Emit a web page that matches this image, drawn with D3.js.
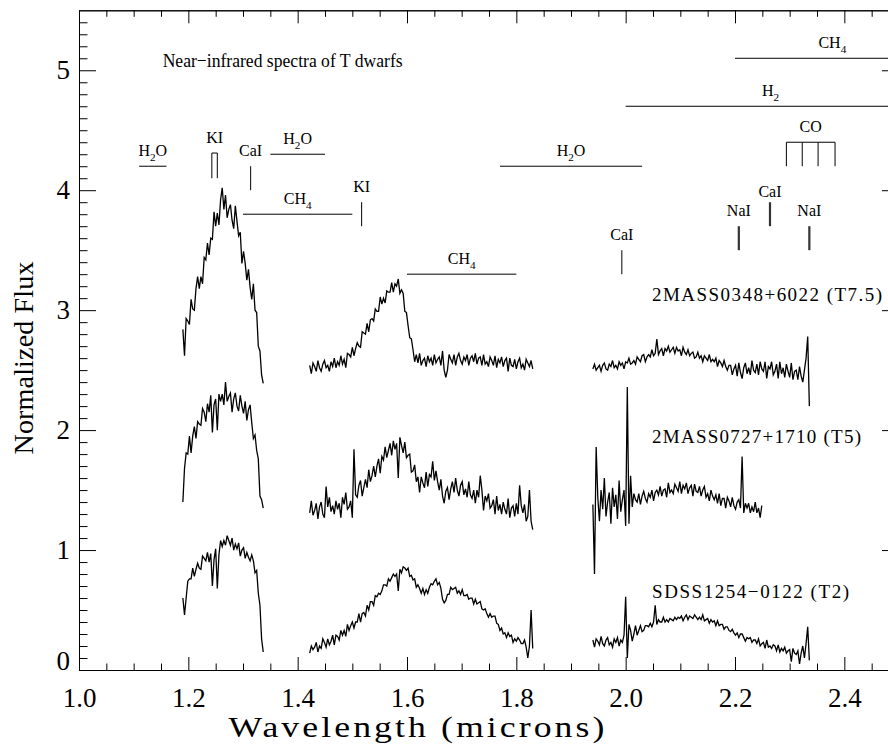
<!DOCTYPE html>
<html><head><meta charset="utf-8">
<script src="https://cdn.jsdelivr.net/npm/d3@7"></script>
<style>body{margin:0;background:#fff} svg{display:block}</style>
</head><body>
<svg id="c" width="888" height="744"></svg>
<script>
// ---------- data ----------
const xTickMajor = [1.0, 1.2, 1.4, 1.6, 1.8, 2.0, 2.2, 2.4];
const yTickMajor = [0, 1, 2, 3, 4, 5];
const segStart = {J: 1.190, H: 1.422, K: 1.940};
const segStep = 0.003;

const t75J = [2.84,2.62,2.93,2.91,2.88,3.09,3.01,3.00,3.18,3.28,3.18,3.28,3.22,3.44,3.42,3.56,3.46,3.60,3.59,3.82,3.70,3.81,3.71,3.92,4.02,3.84,3.96,3.77,3.84,3.88,3.75,3.68,3.87,3.74,3.62,3.65,3.39,3.49,3.39,3.25,3.34,3.19,3.09,3.22,3.00,2.98,2.70,2.66,2.46,2.39];
const t75H = [2.54,2.47,2.56,2.53,2.49,2.58,2.52,2.49,2.55,2.58,2.52,2.54,2.49,2.57,2.53,2.60,2.52,2.57,2.54,2.62,2.55,2.59,2.52,2.64,2.63,2.61,2.69,2.62,2.68,2.73,2.70,2.69,2.82,2.81,2.80,2.89,2.82,2.92,2.93,2.91,3.01,2.99,2.99,3.11,3.05,3.10,3.06,3.16,3.15,3.15,3.23,3.15,3.22,3.20,3.26,3.14,3.17,3.14,2.99,2.98,2.87,2.77,2.76,2.67,2.57,2.63,2.56,2.64,2.54,2.58,2.60,2.53,2.62,2.57,2.60,2.54,2.63,2.56,2.59,2.61,2.54,2.66,2.50,2.44,2.50,2.63,2.59,2.56,2.63,2.54,2.61,2.64,2.58,2.55,2.61,2.58,2.63,2.54,2.60,2.62,2.57,2.64,2.55,2.60,2.61,2.54,2.63,2.55,2.57,2.53,2.61,2.58,2.54,2.62,2.52,2.59,2.56,2.61,2.53,2.58,2.60,2.49,2.60,2.54,2.53,2.59,2.51,2.57,2.60,2.52,2.55,2.50,2.59,2.56,2.53,2.58,2.51];
const t75K = [2.51,2.55,2.50,2.52,2.54,2.49,2.54,2.56,2.51,2.50,2.55,2.53,2.58,2.52,2.54,2.51,2.57,2.54,2.56,2.51,2.57,2.56,2.60,2.55,2.56,2.58,2.55,2.61,2.59,2.57,2.62,2.63,2.57,2.61,2.63,2.61,2.67,2.62,2.64,2.76,2.63,2.66,2.68,2.62,2.68,2.66,2.70,2.65,2.67,2.69,2.64,2.69,2.66,2.67,2.62,2.69,2.65,2.63,2.67,2.62,2.64,2.65,2.60,2.61,2.65,2.60,2.62,2.57,2.62,2.60,2.58,2.63,2.57,2.59,2.57,2.60,2.53,2.58,2.56,2.53,2.58,2.53,2.50,2.54,2.54,2.46,2.51,2.54,2.45,2.56,2.48,2.43,2.52,2.56,2.47,2.52,2.46,2.58,2.50,2.48,2.55,2.46,2.57,2.51,2.49,2.57,2.43,2.53,2.51,2.57,2.46,2.49,2.55,2.43,2.57,2.47,2.52,2.44,2.55,2.49,2.44,2.56,2.42,2.49,2.50,2.42,2.53,2.45,2.40,2.50,2.60,2.78,2.20];

const t5J = [1.40,1.68,1.81,1.80,1.95,1.81,1.95,2.03,1.93,2.07,2.05,2.04,2.18,2.15,2.07,2.22,2.15,2.29,1.98,2.21,2.26,2.00,2.30,2.24,2.30,2.21,2.40,2.24,2.28,2.31,2.15,2.26,2.31,2.20,2.16,2.29,2.20,2.14,2.24,2.08,2.17,2.21,2.06,1.93,1.96,1.83,1.76,1.45,1.42,1.35];
const t5H = [1.31,1.41,1.29,1.33,1.39,1.26,1.36,1.40,1.30,1.27,1.53,1.36,1.44,1.32,1.37,1.30,1.41,1.34,1.39,1.27,1.44,1.38,1.48,1.34,1.36,1.41,1.27,1.84,1.46,1.44,1.54,1.58,1.45,1.52,1.59,1.52,1.67,1.57,1.62,1.70,1.61,1.70,1.76,1.64,1.78,1.75,1.86,1.77,1.83,1.89,1.79,1.91,1.84,1.89,1.60,1.94,1.87,1.81,1.90,1.77,1.79,1.80,1.65,1.66,1.71,1.57,1.61,1.48,1.61,1.56,1.52,1.65,1.53,1.63,1.61,1.74,1.58,1.66,1.57,1.50,1.59,1.45,1.39,1.49,1.52,1.42,1.51,1.57,1.48,1.60,1.50,1.45,1.54,1.57,1.46,1.51,1.44,1.57,1.46,1.43,1.50,1.39,1.50,1.44,1.62,1.50,1.33,1.45,1.41,1.47,1.35,1.37,1.42,1.30,1.45,1.33,1.38,1.30,1.40,1.34,1.30,1.43,1.27,1.35,1.37,1.28,1.39,1.30,1.54,1.37,1.31,1.38,1.24,1.28,1.50,1.24,1.17];
const t5K = [1.38,0.80,1.86,1.44,1.24,1.50,1.34,1.60,1.28,1.40,1.48,1.22,1.52,1.36,1.46,1.26,1.58,1.32,1.42,1.50,1.20,2.36,1.22,1.62,1.36,1.47,1.42,1.40,1.47,1.38,1.45,1.49,1.43,1.40,1.47,1.44,1.50,1.41,1.48,1.50,1.46,1.53,1.45,1.50,1.51,1.44,1.56,1.48,1.50,1.47,1.55,1.52,1.49,1.57,1.47,1.54,1.51,1.56,1.47,1.52,1.54,1.45,1.55,1.49,1.48,1.53,1.45,1.50,1.53,1.44,1.47,1.41,1.50,1.45,1.42,1.46,1.39,1.47,1.37,1.43,1.43,1.35,1.44,1.41,1.36,1.44,1.37,1.34,1.40,1.42,1.35,1.78,1.31,1.39,1.35,1.39,1.31,1.36,1.32,1.40,1.31,1.35,1.27,1.37];

const t2J = [0.60,0.46,0.60,0.74,0.76,0.76,0.85,0.78,0.84,0.89,0.85,0.84,0.95,0.93,0.91,0.98,0.90,0.97,0.70,0.92,1.01,0.68,0.96,1.08,1.03,1.08,1.04,1.12,1.08,1.04,1.10,1.00,1.05,1.01,1.06,0.95,1.00,1.02,0.93,0.98,0.94,0.91,0.96,0.91,0.81,0.83,0.64,0.54,0.26,0.15];
const t2H = [0.14,0.20,0.17,0.19,0.23,0.15,0.20,0.18,0.26,0.23,0.19,0.26,0.21,0.24,0.29,0.21,0.29,0.28,0.25,0.33,0.29,0.33,0.28,0.38,0.33,0.37,0.40,0.35,0.40,0.40,0.47,0.40,0.47,0.48,0.45,0.54,0.50,0.57,0.57,0.54,0.62,0.61,0.64,0.63,0.66,0.71,0.71,0.70,0.76,0.74,0.77,0.80,0.78,0.80,0.66,0.84,0.81,0.86,0.85,0.83,0.85,0.78,0.79,0.75,0.76,0.69,0.71,0.68,0.64,0.68,0.63,0.67,0.64,0.69,0.72,0.71,0.74,0.76,0.71,0.73,0.68,0.59,0.56,0.58,0.63,0.63,0.69,0.67,0.68,0.69,0.64,0.66,0.63,0.67,0.62,0.62,0.63,0.59,0.60,0.60,0.55,0.59,0.55,0.56,0.57,0.51,0.50,0.51,0.47,0.44,0.47,0.44,0.45,0.45,0.39,0.38,0.33,0.35,0.30,0.31,0.27,0.31,0.28,0.29,0.23,0.26,0.24,0.27,0.25,0.22,0.22,0.25,0.19,0.10,0.20,0.50,0.18];
const t2K = [0.25,0.19,0.26,0.24,0.21,0.28,0.22,0.20,0.25,0.27,0.21,0.23,0.19,0.26,0.23,0.27,0.20,0.25,0.23,0.29,0.61,0.10,0.38,0.33,0.24,0.30,0.37,0.29,0.33,0.37,0.32,0.33,0.37,0.37,0.36,0.39,0.36,0.40,0.54,0.38,0.42,0.40,0.40,0.44,0.40,0.42,0.40,0.43,0.42,0.41,0.44,0.42,0.44,0.43,0.45,0.41,0.44,0.46,0.42,0.45,0.44,0.43,0.46,0.44,0.42,0.44,0.42,0.46,0.41,0.42,0.43,0.39,0.42,0.40,0.41,0.37,0.41,0.37,0.38,0.38,0.34,0.36,0.36,0.33,0.32,0.34,0.31,0.29,0.31,0.27,0.30,0.30,0.27,0.24,0.27,0.26,0.27,0.23,0.25,0.25,0.22,0.26,0.20,0.22,0.23,0.18,0.25,0.19,0.20,0.18,0.21,0.20,0.16,0.21,0.15,0.18,0.16,0.19,0.14,0.16,0.17,0.07,0.18,0.14,0.13,0.16,0.05,0.14,0.20,0.10,0.22,0.36,0.08];

const objects = [
  {name: "2MASS0348+6022 (T7.5)", labelY: 3.08, J: t75J, H: t75H, K: t75K},
  {name: "2MASS0727+1710 (T5)",   labelY: 1.89, J: t5J,  H: t5H,  K: t5K},
  {name: "SDSS1254\u22120122 (T2)", labelY: 0.60, J: t2J,  H: t2H,  K: t2K}
];

// molecular bands: horizontal bars
const bands = [
  {t: "H_2O", x0: 1.11, x1: 1.16, yv: 4.20},
  {t: "H_2O", x0: 1.35, x1: 1.45, yv: 4.30},
  {t: "CH_4", x0: 1.30, x1: 1.50, yv: 3.80},
  {t: "CH_4", x0: 1.60, x1: 1.80, yv: 3.30},
  {t: "H_2O", x0: 1.77, x1: 2.03, yv: 4.20},
  {t: "H_2",  x0: 2.00, x1: 2.50, yv: 4.70, lx: 2.265},
  {t: "CH_4", x0: 2.20, x1: 2.50, yv: 5.10, lx: 2.378}
];
// atomic lines / bandheads: vertical ticks
const features = [
  {t: "KI",  xs: [1.243, 1.253], y0: 4.10, y1: 4.31, joined: true},
  {t: "CaI", xs: [1.314], y0: 4.00, y1: 4.20},
  {t: "KI",  xs: [1.517], y0: 3.70, y1: 3.90},
  {t: "CaI", xs: [1.993], y0: 3.30, y1: 3.50},
  {t: "NaI", xs: [2.207], y0: 3.50, y1: 3.70, heavy: true},
  {t: "CaI", xs: [2.264], y0: 3.70, y1: 3.90, heavy: true, gap: 5},
  {t: "NaI", xs: [2.336], y0: 3.50, y1: 3.70, heavy: true},
  {t: "CO",  xs: [2.294, 2.323, 2.352, 2.383], y0: 4.20, y1: 4.40, joined: true}
];

// ---------- drawing ----------
const FONT = "'Liberation Serif', 'DejaVu Serif', serif";
const svg = d3.select("#c");
const x = d3.scaleLinear().domain([1.0, 2.5]).range([79, 899]);
const y = d3.scaleLinear().domain([0, 5.5]).range([670, 10.3]);

const xMinor = d3.range(21, 50).map(i => i * 0.05).filter(v => Math.abs(v*5 - Math.round(v*5)) > 1e-6 && v < 2.5 && v > 1.0);
const yMinor = d3.range(1, 55).map(i => i / 10).filter(v => Math.abs(v - Math.round(v)) > 1e-6);

function style(g, size) {
  g.selectAll("path, line").attr("stroke", "#000").attr("stroke-width", 1);
  g.selectAll("text").attr("font-family", FONT).attr("font-size", size).attr("fill", "#000");
}

// bottom
svg.append("g").attr("transform", `translate(0,${y(0)})`)
  .call(d3.axisBottom(x).tickValues(xMinor).tickSize(-6.5).tickSizeOuter(0).tickFormat(""))
  .call(g => style(g, 27));
svg.append("g").attr("transform", `translate(0,${y(0)})`)
  .call(d3.axisBottom(x).tickValues(xTickMajor).tickSize(-13).tickSizeOuter(0).tickPadding(18).tickFormat(d3.format(".1f")))
  .call(g => style(g, 27));
// top
svg.append("g").attr("transform", `translate(0,${y(5.5)})`)
  .call(d3.axisTop(x).tickValues(xMinor).tickSize(-6.5).tickSizeOuter(0).tickFormat(""))
  .call(g => style(g, 27));
svg.append("g").attr("transform", `translate(0,${y(5.5)})`)
  .call(d3.axisTop(x).tickValues(xTickMajor).tickSize(-13).tickSizeOuter(0).tickFormat(""))
  .call(g => style(g, 27));
// left
svg.append("g").attr("transform", `translate(${x(1.0)},0)`)
  .call(d3.axisLeft(y).tickValues(yMinor).tickSize(-8.5).tickSizeOuter(0).tickFormat(""))
  .call(g => style(g, 27));
const yl = svg.append("g").attr("transform", `translate(${x(1.0)},0)`)
  .call(d3.axisLeft(y).tickValues(yTickMajor).tickSize(-17).tickSizeOuter(0).tickPadding(9).tickFormat(d3.format("d")))
  .call(g => style(g, 27));
yl.selectAll(".tick").filter(d => d === 0).select("text").attr("y", -9);
// right
svg.append("g").attr("transform", `translate(${x(2.5)},0)`)
  .call(d3.axisRight(y).tickValues(yMinor).tickSize(-8.5).tickSizeOuter(0).tickFormat(""))
  .call(g => style(g, 27));
svg.append("g").attr("transform", `translate(${x(2.5)},0)`)
  .call(d3.axisRight(y).tickValues(yTickMajor).tickSize(-17).tickSizeOuter(0).tickFormat(""))
  .call(g => style(g, 27));

// axis titles
svg.append("text").attr("x", 418).attr("y", 737).attr("text-anchor", "middle")
  .attr("font-family", FONT).attr("font-size", 29).attr("letter-spacing", 2.5)
  .attr("textLength", 379).attr("lengthAdjust", "spacingAndGlyphs")
  .text("Wavelength (microns)");
svg.append("text").attr("transform", "translate(33,358) rotate(-90)").attr("text-anchor", "middle")
  .attr("font-family", FONT).attr("font-size", 28)
  .attr("textLength", 193).attr("lengthAdjust", "spacing")
  .text("Normalized Flux");

// spectra
const line = d3.line().x(d => x(d[0])).y(d => y(d[1]));
const specG = svg.append("g");
const labelLen = [230, 209, 197];
objects.forEach((o, k) => {
  ["J", "H", "K"].forEach(seg => {
    const pts = o[seg].map((v, i) => [segStart[seg] + i * segStep, v]);
    specG.append("path").datum(pts).attr("d", line)
      .attr("fill", "none").attr("stroke", "#000").attr("stroke-width", 1.3).attr("stroke-linejoin", "miter");
  });
  svg.append("text").attr("x", x(2.0482)).attr("y", y(o.labelY))
    .attr("font-family", FONT).attr("font-size", 19)
    .attr("textLength", labelLen[k]).attr("lengthAdjust", "spacing").text(o.name);
});

// label helper with subscripts ("_d")
function rich(textSel, str, size) {
  const parts = str.split(/(_\d)/).filter(s => s);
  let sub = false;
  parts.forEach(p => {
    if (p[0] === "_") {
      textSel.append("tspan").attr("font-size", size * 0.7).attr("dy", size * 0.28).text(p[1]);
      sub = true;
    } else {
      const t = textSel.append("tspan").text(p);
      if (sub) t.attr("dy", -size * 0.28);
      sub = false;
    }
  });
}
const LS = 16;
const annG = svg.append("g");
bands.forEach(b => {
  annG.append("line").attr("x1", x(b.x0)).attr("x2", x(b.x1)).attr("y1", y(b.yv)).attr("y2", y(b.yv))
    .attr("stroke", "#000").attr("stroke-width", 1);
  const t = annG.append("text").attr("x", x(b.lx !== undefined ? b.lx : (b.x0 + b.x1) / 2))
    .attr("y", y(b.yv) - 10).attr("text-anchor", "middle")
    .attr("font-family", FONT).attr("font-size", LS);
  rich(t, b.t, LS);
});
features.forEach(f => {
  f.xs.forEach(xv => {
    annG.append("line").attr("x1", x(xv)).attr("x2", x(xv)).attr("y1", y(f.y0)).attr("y2", y(f.y1))
      .attr("stroke", f.heavy ? "#333" : "#000").attr("stroke-width", f.heavy ? 2.2 : 1);
  });
  if (f.joined) {
    annG.append("line").attr("x1", x(f.xs[0])).attr("x2", x(f.xs[f.xs.length - 1]))
      .attr("y1", y(f.y1)).attr("y2", y(f.y1)).attr("stroke", "#000").attr("stroke-width", 1);
  }
  const cx = (f.xs[0] + f.xs[f.xs.length - 1]) / 2;
  annG.append("text").attr("x", x(cx)).attr("y", y(f.y1) - (f.gap !== undefined ? f.gap : 10))
    .attr("text-anchor", "middle").attr("font-family", FONT).attr("font-size", LS).text(f.t);
});

// title
svg.append("text").attr("x", x(1.153)).attr("y", y(5.03))
  .attr("font-family", FONT).attr("font-size", 19)
  .attr("textLength", 240).attr("lengthAdjust", "spacingAndGlyphs")
  .text("Near\u2212infrared spectra of T dwarfs");
</script>
</body></html>
